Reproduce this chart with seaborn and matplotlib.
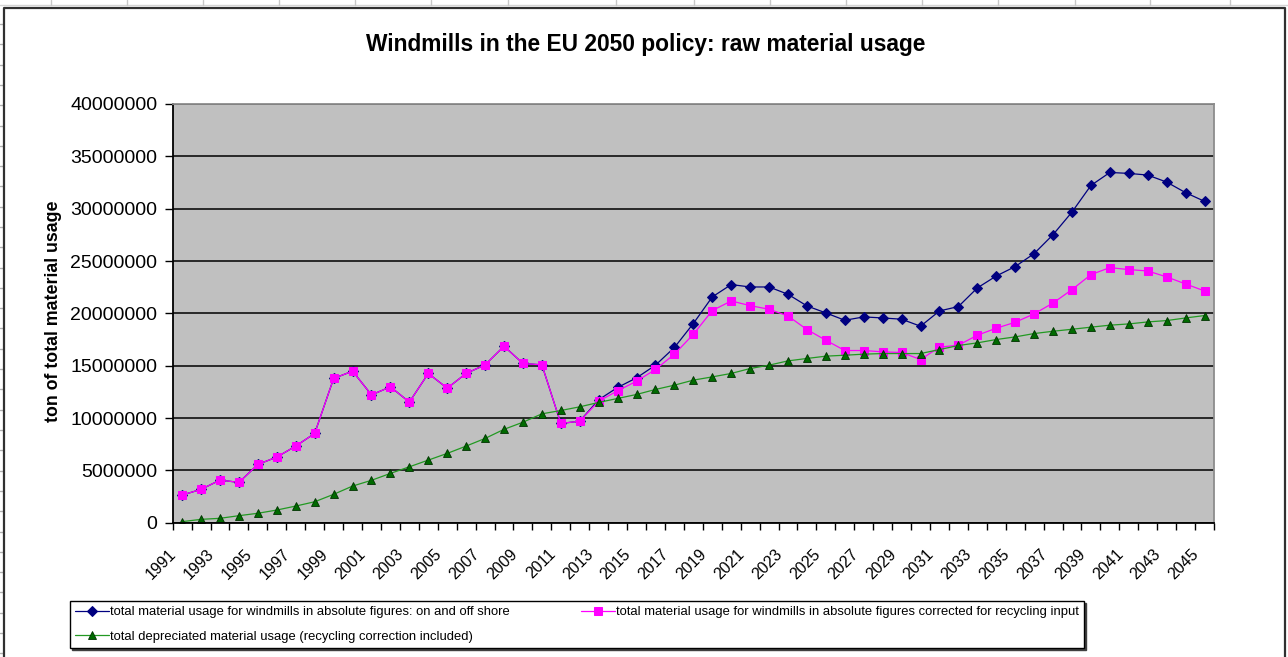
import numpy as np
import pandas as pd
import seaborn as sns
import matplotlib.pyplot as plt
from matplotlib.transforms import ScaledTranslation
from matplotlib.lines import Line2D

# --- data (million tons) ---
years = list(range(1991, 2046))

total_onoff = [2.64, 3.19, 4.07, 3.85, 5.57, 6.27, 7.32, 8.53, 13.78, 14.48,
               12.21, 12.98, 11.52, 14.26, 12.85, 14.26, 15.08, 16.86, 15.21, 15.08,
               9.48, 9.70, 11.75, 12.92, 13.84, 15.05, 16.74, 19.03, 21.57, 22.75,
               22.52, 22.52, 21.82, 20.71, 20.04, 19.34, 19.66, 19.56, 19.44, 18.77,
               20.23, 20.65, 22.43, 23.57, 24.47, 25.71, 27.52, 29.68, 32.22, 33.46,
               33.37, 33.21, 32.54, 31.53, 30.70]

total_recycl = [2.64, 3.19, 4.07, 3.85, 5.57, 6.27, 7.32, 8.53, 13.78, 14.48,
                12.21, 12.98, 11.52, 14.26, 12.85, 14.26, 15.08, 16.86, 15.21, 15.08,
                9.48, 9.70, 11.61, 12.60, 13.52, 14.64, 16.10, 18.00, 20.27, 21.18,
                20.74, 20.39, 19.75, 18.45, 17.43, 16.45, 16.45, 16.32, 16.26, 15.59,
                16.77, 16.96, 17.91, 18.58, 19.15, 19.95, 20.99, 22.27, 23.70, 24.37,
                24.18, 24.05, 23.48, 22.81, 22.14]

depreciated = [0.10, 0.32, 0.42, 0.67, 0.90, 1.21, 1.59, 2.00, 2.71, 3.50,
               4.05, 4.71, 5.34, 5.98, 6.62, 7.32, 8.05, 8.92, 9.60, 10.40,
               10.72, 11.07, 11.49, 11.87, 12.25, 12.73, 13.14, 13.62, 13.93, 14.26,
               14.73, 15.05, 15.46, 15.69, 15.91, 16.00, 16.10, 16.16, 16.16, 16.16,
               16.54, 16.93, 17.18, 17.50, 17.75, 18.07, 18.29, 18.48, 18.68, 18.87,
               18.99, 19.18, 19.31, 19.56, 19.79]

series_labels = [
    'total material usage for windmills in absolute figures: on and off shore',
    'total material usage for windmills in absolute figures corrected for recycling input',
    'total depreciated material usage (recycling correction included)',
]

df = pd.DataFrame({
    'year': years,
    'onoff': np.array(total_onoff) * 1e6,
    'recycl': np.array(total_recycl) * 1e6,
    'depr': np.array(depreciated) * 1e6,
})

sns.set_theme(style='white')
plt.rcParams['font.family'] = ['Liberation Sans', 'DejaVu Sans']
plt.rcParams['text.color'] = 'black'
plt.rcParams['axes.labelcolor'] = 'black'
plt.rcParams['xtick.color'] = 'black'
plt.rcParams['ytick.color'] = 'black'

W, H = 1288, 657
fig = plt.figure(figsize=(W / 100, H / 100), dpi=100)
fig.patch.set_facecolor('white')

# spreadsheet bits around the chart object
fig.add_artist(Line2D([0, 1], [1 - 5 / H, 1 - 5 / H], color='#d4d4d4', lw=1))
for cx in [51, 127, 203, 279, 355, 431, 508, 616, 694, 770, 846, 922, 998, 1075, 1150, 1230]:
    fig.add_artist(Line2D([cx / W, cx / W], [1, 1 - 5 / H], color='#c8c8c8', lw=1))
for ry in np.arange(24, H, 20.3):
    fig.add_artist(Line2D([0, 3 / W], [1 - ry / H, 1 - ry / H], color='#b0b0b0', lw=1))
# chart border
fig.add_artist(Line2D([3.5 / W, 3.5 / W, 1285 / W, 1285 / W], [0, 1 - 8 / H, 1 - 8 / H, 0],
                      color='#303030', lw=1.6))

left, right, top, bottom = 172.7, 1214, 104, 522.7
ax = fig.add_axes([left / W, 1 - bottom / H, (right - left) / W, (bottom - top) / H])
ax.set_facecolor('#c0c0c0')

sns.lineplot(data=df, x='year', y='onoff', ax=ax, color='#000080', lw=0.9,
             marker='D', markersize=4.8, markeredgecolor='#000080', markerfacecolor='#000080',
             label=series_labels[0])
sns.lineplot(data=df, x='year', y='recycl', ax=ax, color='#ff00ff', lw=0.9,
             marker='s', markersize=5.8, markeredgecolor='#ff00ff', markerfacecolor='#ff00ff',
             label=series_labels[1])
sns.lineplot(data=df, x='year', y='depr', ax=ax, color='#229922', lw=0.9,
             marker='^', markersize=6.4, markeredgecolor='#003300', markerfacecolor='#006a00',
             markeredgewidth=0.6, label=series_labels[2])

handles, labels = ax.get_legend_handles_labels()
ax.get_legend().remove()

# axes styling
ax.set_xlim(years[0] - 0.5, years[-1] + 0.5)
ax.set_ylim(0, 40e6)
ax.set_yticks(np.arange(0, 40e6 + 1, 5e6))
ax.yaxis.set_major_formatter(lambda v, p: f'{int(v)}')
ax.yaxis.grid(True, color='black', lw=1.1)
ax.xaxis.grid(False)
ax.set_axisbelow(True)

ax.set_xticks(years[::2])
ax.set_xticklabels([str(y) for y in years[::2]])
ax.set_xticks(np.arange(years[0] - 0.5, years[-1] + 1, 1), minor=True)
ax.tick_params(axis='x', which='major', length=0, pad=21, labelsize=11.5)
ax.tick_params(axis='x', which='minor', length=5, width=1, color='black', direction='out',
               bottom=True)
ax.tick_params(axis='y', which='major', length=6, width=1, color='black', direction='out',
               left=True, pad=5, labelsize=14)
shift = ScaledTranslation(-8 / 100, 0, fig.dpi_scale_trans)
for lab in ax.get_xticklabels():
    lab.set_rotation(45)
    lab.set_ha('right')
    lab.set_va('center')
    lab.set_rotation_mode('anchor')
    lab.set_transform(lab.get_transform() + shift)

for s in ['left', 'bottom']:
    ax.spines[s].set_color('black')
    ax.spines[s].set_linewidth(1.3)
for s in ['top', 'right']:
    ax.spines[s].set_color('#8c8c8c')
    ax.spines[s].set_linewidth(1.3)

ax.set_xlabel('')
ax.set_ylabel('ton of total material usage', fontsize=12.8, fontweight='bold')
ax.yaxis.set_label_coords((62 - left) / (right - left), 0.505)

fig.text(646 / W, 1 - 45 / H, 'Windmills in the EU 2050 policy: raw material usage',
         ha='center', va='center', fontsize=16.4, fontweight='bold')

# legend: blue & pink on the first row, green below
order = [0, 2, 1]
leg = fig.legend([handles[i] for i in order], [labels[i] for i in order],
                 ncol=2, loc='upper left', bbox_to_anchor=(70 / W, 1 - 601 / H),
                 fontsize=9.4, frameon=True, fancybox=False, framealpha=1,
                 edgecolor='black', handlelength=2.6, handletextpad=0.1,
                 columnspacing=5.4, borderpad=0.4, labelspacing=0.95, borderaxespad=0,
                 shadow={'ox': 1.4, 'oy': -1.4, 'color': '#404040', 'alpha': 1})
leg.get_frame().set_linewidth(1.0)

fig.savefig('out.png', dpi=100)
